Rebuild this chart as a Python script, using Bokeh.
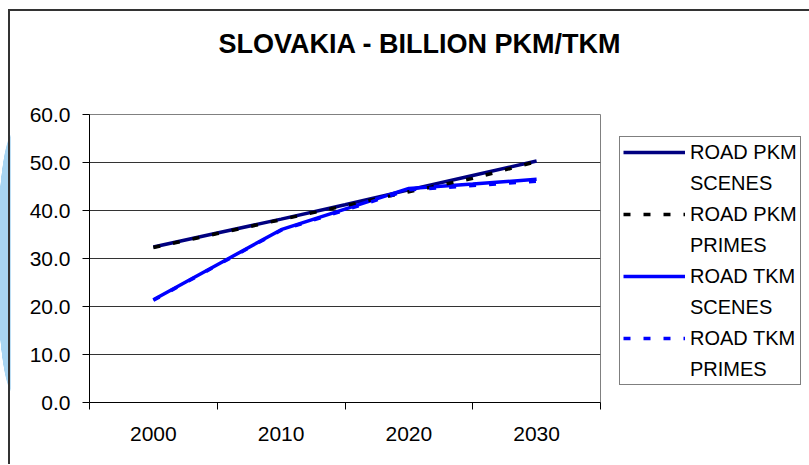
from bokeh.plotting import figure
from bokeh.models import (Range1d, FixedTicker, NumeralTickFormatter, Legend, LegendItem,
                          ColumnDataSource, Title)
from bokeh.layouts import column
from bokeh.embed import file_html
from bokeh.resources import INLINE

years = [2000, 2005, 2010, 2015, 2020, 2025, 2030]
pkm_scenes = [32.4, 35.3, 38.2, 41.2, 44.3, 47.3, 50.3]
pkm_primes = [32.3, 35.2, 38.1, 41.0, 43.9, 46.7, 50.2]
tkm_scenes = [21.4, 28.7, 36.0, 40.3, 44.6, 45.5, 46.5]
tkm_primes = [21.3, 28.6, 35.9, 40.1, 44.3, 45.2, 46.1]

x_labels = [2000, 2010, 2020, 2030]
x_bounds = [1995, 2005, 2015, 2025, 2035]
y_ticks = [0, 10, 20, 30, 40, 50, 60]

FONT = "Liberation Sans"

p = figure(frame_width=511, frame_height=288, output_backend="svg", toolbar_location=None,
           x_range=Range1d(1995, 2035), y_range=Range1d(0, 60),
           min_border_left=79, min_border_right=200, min_border_top=103, min_border_bottom=62,
           background_fill_color="white", border_fill_color="white", title=None)

# spacer between frame and title (added first = closest to the frame)
p.add_layout(Title(text=" ", text_font_size="1px", standoff=53), "above")
p.add_layout(Title(text="SLOVAKIA - BILLION PKM/TKM", align="left", offset=129, standoff=0,
                   text_font=FONT, text_font_size="27px", text_font_style="bold",
                   text_color="black"), "above")

p.outline_line_color = "#808080"
p.outline_line_width = 1

# axes
p.xaxis.ticker = FixedTicker(ticks=x_labels, minor_ticks=x_bounds)
p.xaxis.major_tick_out = 0
p.xaxis.major_tick_in = 0
p.xaxis.minor_tick_out = 7
p.xaxis.minor_tick_in = 0
p.xaxis.minor_tick_line_color = "black"
p.xaxis.major_label_standoff = 17
p.yaxis.ticker = FixedTicker(ticks=y_ticks)
p.yaxis.formatter = NumeralTickFormatter(format="0.0")
p.yaxis.major_tick_out = 7
p.yaxis.major_tick_in = 0
p.yaxis.minor_tick_line_color = None
p.yaxis.major_label_standoff = 12
for ax in (p.xaxis, p.yaxis):
    ax.axis_line_color = "black"
    ax.axis_line_width = 1
    ax.major_tick_line_color = "black"
    ax.major_label_text_font = FONT
    ax.major_label_text_font_size = "21px"
    ax.major_label_text_color = "black"

p.xgrid.grid_line_color = None
p.ygrid.ticker = FixedTicker(ticks=[10, 20, 30, 40, 50])
p.ygrid.grid_line_color = "#333333"
p.ygrid.grid_line_width = 1

src = ColumnDataSource(dict(year=years, pkm_s=pkm_scenes, pkm_p=pkm_primes,
                            tkm_s=tkm_scenes, tkm_p=tkm_primes))

r1 = p.line("year", "pkm_s", source=src, line_color="#000080", line_width=3.5)
r3 = p.line("year", "tkm_s", source=src, line_color="#0000FF", line_width=3.5)
r2 = p.line("year", "pkm_p", source=src, line_color="black", line_width=3.5, line_dash="7 13")
r4 = p.line("year", "tkm_p", source=src, line_color="#0000FF", line_width=3.5, line_dash="7 13")
blank = p.line(x=[], y=[], line_alpha=0)

legend = Legend(items=[
    LegendItem(label="ROAD PKM", renderers=[r1]),
    LegendItem(label="SCENES", renderers=[blank]),
    LegendItem(label="ROAD PKM", renderers=[r2]),
    LegendItem(label="PRIMES", renderers=[blank]),
    LegendItem(label="ROAD TKM", renderers=[r3]),
    LegendItem(label="SCENES", renderers=[blank]),
    LegendItem(label="ROAD TKM", renderers=[r4]),
    LegendItem(label="PRIMES", renderers=[blank]),
], location=(19, 17))
legend.label_text_font = FONT
legend.label_text_font_size = "20px"
legend.label_text_color = "black"
legend.glyph_width = 62
legend.glyph_height = 24
legend.label_height = 24
legend.spacing = 7
legend.padding = 3
legend.margin = 0
legend.label_standoff = 5
legend.border_line_color = "black"
legend.border_line_width = 1
legend.background_fill_color = "white"
legend.background_fill_alpha = 1
p.add_layout(legend, "right")

chart = column(p, margin=(9, 0, 0, 8),
               styles={"border-left": "2px solid #333333", "border-top": "2px solid #333333"})
page = column(chart, styles={"background": "radial-gradient(ellipse 16px 130px at 13px 263px, #a8d5f2 98%, rgba(255,255,255,0) 100%)"})

open("out.html", "w").write(file_html(page, INLINE))
